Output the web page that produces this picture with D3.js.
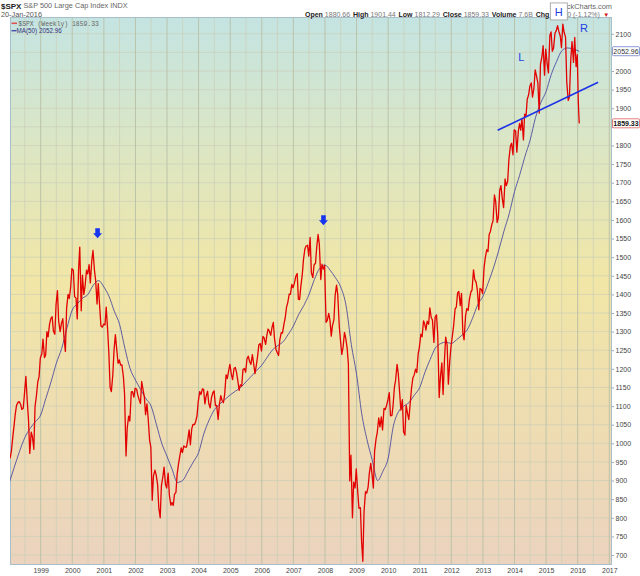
<!DOCTYPE html>
<html>
<head>
<meta charset="utf-8">
<script src="https://cdn.jsdelivr.net/npm/d3@7"></script>
<style>
body { margin: 0; background: #fff; }
svg { display: block; font-family: "Liberation Sans", Arial, sans-serif; }
</style>
</head>
<body>
<div id="chart"></div>
<script>
var px1998 = [960, 980, 1020, 1049, 1080, 1102, 1110, 1112, 1105, 1091, 1095, 1134, 1180, 1121, 1060, 973, 1030, 1017, 984, 1099, 1130, 1164, 1180, 1229];
var px1999 = [1240, 1280, 1230, 1238, 1300, 1286, 1320, 1335, 1340, 1302, 1293, 1373, 1410, 1329, 1300, 1320, 1335, 1283, 1247, 1363, 1400, 1389, 1420, 1469];
var px2000 = [1465, 1394, 1390, 1334, 1465, 1527, 1356, 1452, 1400, 1421, 1465, 1455, 1480, 1431, 1490, 1518, 1465, 1437, 1374, 1429, 1365, 1315, 1312, 1320];
var px2001 = [1318, 1366, 1302, 1240, 1150, 1139, 1183, 1249, 1292, 1256, 1215, 1224, 1210, 1211, 1180, 1134, 966, 1041, 1073, 1060, 1138, 1139, 1124, 1148];
var px2002 = [1146, 1130, 1116, 1107, 1166, 1147, 1124, 1077, 1106, 1067, 1007, 990, 847, 912, 928, 916, 889, 827, 800, 886, 910, 936, 890, 880];
var px2003 = [920, 861, 834, 841, 833, 863, 868, 917, 945, 964, 988, 975, 993, 990, 990, 1008, 1036, 996, 1039, 1051, 1050, 1058, 1074, 1112];
var px2004 = [1139, 1131, 1146, 1145, 1106, 1126, 1140, 1107, 1095, 1121, 1136, 1141, 1101, 1102, 1064, 1104, 1128, 1115, 1109, 1130, 1184, 1174, 1195, 1212];
var px2005 = [1185, 1171, 1201, 1204, 1191, 1171, 1142, 1157, 1154, 1198, 1201, 1191, 1227, 1234, 1219, 1212, 1238, 1215, 1187, 1207, 1235, 1265, 1268, 1248];
var px2006 = [1287, 1283, 1266, 1289, 1307, 1302, 1290, 1310, 1325, 1281, 1252, 1244, 1236, 1278, 1297, 1296, 1320, 1336, 1366, 1378, 1401, 1400, 1427, 1418];
var px2007 = [1431, 1448, 1456, 1387, 1386, 1421, 1453, 1494, 1522, 1530, 1532, 1503, 1553, 1458, 1445, 1479, 1484, 1527, 1561, 1535, 1440, 1481, 1468, 1478];
var px2008 = [1325, 1330, 1349, 1331, 1288, 1316, 1332, 1397, 1425, 1400, 1317, 1278, 1239, 1257, 1298, 1283, 1255, 1213, 899, 968, 800, 896, 880, 931];
var px2009 = [870, 826, 827, 735, 683, 816, 870, 866, 882, 919, 946, 918, 880, 979, 1012, 1029, 1068, 1044, 1071, 1036, 1094, 1091, 1102, 1115];
var px2010 = [1136, 1074, 1075, 1105, 1150, 1169, 1212, 1187, 1136, 1089, 1117, 1031, 1022, 1102, 1079, 1064, 1110, 1148, 1176, 1183, 1199, 1190, 1240, 1258];
var px2011 = [1293, 1286, 1329, 1320, 1304, 1328, 1320, 1364, 1338, 1331, 1271, 1339, 1345, 1292, 1123, 1177, 1216, 1131, 1224, 1285, 1263, 1159, 1220, 1258];
var px2012 = [1289, 1316, 1361, 1366, 1404, 1408, 1370, 1403, 1295, 1278, 1343, 1362, 1357, 1386, 1406, 1412, 1466, 1440, 1433, 1412, 1359, 1416, 1413, 1402];
var px2013 = [1472, 1498, 1520, 1515, 1561, 1569, 1588, 1598, 1667, 1650, 1593, 1606, 1680, 1692, 1655, 1633, 1710, 1692, 1704, 1762, 1798, 1806, 1775, 1842];
var px2014 = [1839, 1782, 1838, 1859, 1841, 1872, 1815, 1884, 1878, 1924, 1937, 1960, 1968, 1930, 1955, 2003, 1985, 1968, 1887, 2018, 2039, 2068, 1989, 2059];
var px2015 = [2019, 1995, 2096, 2105, 2053, 2061, 2102, 2108, 2122, 2107, 2094, 2063, 2126, 2104, 2091, 1971, 1921, 1931, 2033, 2079, 2023, 2090, 2012, 2044];
var px2016Dates = ['2016-01-08', '2016-01-15', '2016-01-20'];
var px2016 = [1922, 1880, 1859.33];

// 50-week moving average, read at Jan/Mar/May/Jul/Sep/Nov
var ma1998 = [893, 935, 978, 1015, 1040, 1058];
var ma1999 = [1076, 1120, 1165, 1215, 1255, 1310];
var ma2000 = [1358, 1375, 1390, 1400, 1425, 1437];
var ma2001 = [1420, 1395, 1355, 1320, 1255, 1200];
var ma2002 = [1170, 1145, 1120, 1100, 1050, 1000];
var ma2003 = [965, 930, 895, 900, 925, 950];
var ma2004 = [975, 1025, 1062, 1090, 1105, 1118];
var ma2005 = [1130, 1140, 1150, 1165, 1180, 1195];
var ma2006 = [1210, 1230, 1250, 1262, 1272, 1292];
var ma2007 = [1315, 1345, 1370, 1400, 1440, 1470];
var ma2008 = [1479, 1465, 1445, 1420, 1370, 1265];
var ma2009 = [1185, 1080, 1010, 955, 900, 925];
var ma2010 = [960, 1045, 1085, 1100, 1110, 1130];
var ma2011 = [1150, 1190, 1225, 1256, 1268, 1272];
var ma2012 = [1268, 1278, 1290, 1304, 1335, 1372];
var ma2013 = [1395, 1430, 1470, 1517, 1570, 1617];
var ma2014 = [1676, 1720, 1770, 1815, 1875, 1915];
var ma2015 = [1945, 1990, 2025, 2054, 2062, 2060];
var maLastDate = '2016-01-20';
var maLast = 2052.96;

var yTicks = [700, 750, 800, 850, 900, 950, 1000, 1050, 1100, 1150, 1200, 1250, 1300, 1350, 1400,
              1450, 1500, 1550, 1600, 1650, 1700, 1750, 1800, 1850, 1900, 1950, 2000, 2050, 2100];
// labels hidden behind the value tags in the original
var yHidden = [1850, 2050];
var xTickYears = ['1999', '2000', '2001', '2002', '2003', '2004', '2005', '2006', '2007', '2008',
                  '2009', '2010', '2011', '2012', '2013', '2014', '2015', '2016', '2017'];

var hdrLabels = ['Open', 'High', 'Low', 'Close', 'Volume', 'Chg'];
var hdrValues = ['1880.66', '1901.44', '1812.29', '1859.33', '7.6B', '-21.00 (-1.12%)'];

// annotations
var trendDates = ['2013-06-20', '2016-08-25'];
var trendValues = [1841, 1970];
var arrowDates = ['2000-10-20', '2007-12-15'];
var arrowValues = [1551, 1586];
var letterText = ['L', 'H', 'R'];
var letterDates = ['2014-03-22', '2015-05-28', '2016-03-15'];
var letterValues = [2027, 2148, 2105];

var priceRows = [px1998, px1999, px2000, px2001, px2002, px2003, px2004, px2005, px2006,
                 px2007, px2008, px2009, px2010, px2011, px2012, px2013, px2014, px2015];
var maRows = [ma1998, ma1999, ma2000, ma2001, ma2002, ma2003, ma2004, ma2005, ma2006,
              ma2007, ma2008, ma2009, ma2010, ma2011, ma2012, ma2013, ma2014, ma2015];

var parse = d3.timeParse('%Y-%m-%d');

var price = [];
priceRows.forEach(function(vals, k) {
    vals.forEach(function(v, i) {
        price.push({ date: new Date(1998 + k, Math.floor(i / 2), i % 2 ? 28 : 14), value: v });
    });
});
px2016.forEach(function(v, i) {
    price.push({ date: parse(px2016Dates[i]), value: v });
});

var ma = [];
maRows.forEach(function(vals, k) {
    vals.forEach(function(v, i) {
        ma.push({ date: new Date(1998 + k, i * 2, 1), value: v });
    });
});
ma.push({ date: parse(maLastDate), value: maLast });

var W = 640, H = 576;
var plot = { left: 10, right: 612, top: 17, bottom: 565 };

var x = d3.scaleTime()
    .domain([new Date(1998, 0, 1), new Date(2017, 0, 1)])
    .range([9.1, 609.3]);

var y = d3.scaleLinear()
    .domain([700, 2100])
    .range([555, 33.8]);

var svg = d3.select('#chart').append('svg')
    .attr('width', W)
    .attr('height', H);

var defs = svg.append('defs');
var grad = defs.append('linearGradient')
    .attr('id', 'bg')
    .attr('x1', 0).attr('y1', 0).attr('x2', 0).attr('y2', 1);
grad.append('stop').attr('offset', '0%').attr('stop-color', '#c4e4e2');
grad.append('stop').attr('offset', '22%').attr('stop-color', '#dae6c6');
grad.append('stop').attr('offset', '48%').attr('stop-color', '#f1e6a6');
grad.append('stop').attr('offset', '75%').attr('stop-color', '#eedcb2');
grad.append('stop').attr('offset', '100%').attr('stop-color', '#ebd3bf');

defs.append('clipPath')
    .attr('id', 'clip')
  .append('rect')
    .attr('x', plot.left)
    .attr('y', plot.top)
    .attr('width', plot.right - plot.left)
    .attr('height', plot.bottom - plot.top);

svg.append('rect')
    .attr('x', plot.left)
    .attr('y', plot.top)
    .attr('width', plot.right - plot.left)
    .attr('height', plot.bottom - plot.top)
    .attr('fill', 'url(#bg)');

// grid
var grid = svg.append('g').attr('clip-path', 'url(#clip)');

grid.selectAll('.hgrid')
    .data(yTicks)
  .enter().append('line')
    .attr('class', 'hgrid')
    .attr('x1', plot.left).attr('x2', plot.right)
    .attr('y1', d => y(d)).attr('y2', d => y(d))
    .attr('stroke', '#cbcfb8')
    .attr('stroke-width', 0.7);

var halfYears = d3.timeMonth.every(6).range(new Date(1998, 0, 1), new Date(2017, 1, 1));
grid.selectAll('.vgrid')
    .data(halfYears)
  .enter().append('line')
    .attr('class', 'vgrid')
    .attr('x1', d => x(d)).attr('x2', d => x(d))
    .attr('y1', plot.top).attr('y2', plot.bottom)
    .attr('stroke', d => d.getMonth() === 0 ? '#b8c0a6' : '#cbcfb8')
    .attr('stroke-width', d => d.getMonth() === 0 ? 0.9 : 0.7);

// border
svg.append('rect')
    .attr('x', plot.left + 0.5)
    .attr('y', plot.top + 0.5)
    .attr('width', plot.right - plot.left - 1)
    .attr('height', plot.bottom - plot.top - 1)
    .attr('fill', 'none')
    .attr('stroke', '#a7bfca')
    .attr('stroke-width', 1);

// axes
var yAxis = svg.append('g')
    .attr('transform', 'translate(' + plot.right + ',0)')
    .call(d3.axisRight(y).tickValues(yTicks).tickSize(2).tickPadding(1.5).tickFormat(d3.format('d')));
yAxis.select('.domain').remove();
yAxis.selectAll('line').attr('stroke', '#9ab');
yAxis.selectAll('.tick')
    .filter(d => yHidden.indexOf(d) >= 0)
    .select('text').remove();
yAxis.selectAll('text')
    .style('font-size', '7px')
    .attr('fill', '#444');

var xAxis = svg.append('g')
    .attr('transform', 'translate(0,' + plot.bottom + ')')
    .call(d3.axisBottom(x)
        .tickValues(xTickYears.map(s => parse(s + '-01-01')))
        .tickSize(0)
        .tickPadding(3)
        .tickFormat(d3.timeFormat('%Y')));
xAxis.select('.domain').remove();
xAxis.selectAll('text')
    .style('font-size', '7px')
    .attr('fill', '#444');

// lines
var series = svg.append('g').attr('clip-path', 'url(#clip)');

series.append('path')
    .datum(ma)
    .attr('fill', 'none')
    .attr('stroke', '#3b3b9c')
    .attr('stroke-width', 0.8)
    .attr('d', d3.line().curve(d3.curveMonotoneX).x(d => x(d.date)).y(d => y(d.value)));

series.append('path')
    .datum(price)
    .attr('fill', 'none')
    .attr('stroke', '#e30000')
    .attr('stroke-width', 1.3)
    .attr('stroke-linejoin', 'round')
    .attr('d', d3.line().x(d => x(d.date)).y(d => y(d.value)));

// trendline
svg.append('line')
    .attr('x1', x(parse(trendDates[0]))).attr('y1', y(trendValues[0]))
    .attr('x2', x(parse(trendDates[1]))).attr('y2', y(trendValues[1]))
    .attr('stroke', '#1c32e6')
    .attr('stroke-width', 1.6);

// arrows
svg.selectAll('.arrow')
    .data(arrowDates)
  .enter().append('path')
    .attr('class', 'arrow')
    .attr('transform', (d, i) => 'translate(' + x(parse(d)) + ',' + y(arrowValues[i]) + ')')
    .attr('d', 'M0,0 L-4.5,-5 L-2.3,-5 L-2.3,-10 L2.3,-10 L2.3,-5 L4.5,-5 Z')
    .attr('fill', '#1535f0');

// header
svg.append('text')
    .attr('x', 1).attr('y', 8.5)
    .style('font-size', '8px')
    .style('font-weight', 'bold')
    .attr('fill', '#222')
    .text('$SPX');
svg.append('text')
    .attr('x', 23.5).attr('y', 8.3)
    .style('font-size', '7.3px')
    .attr('fill', '#666')
    .text('S&P 500 Large Cap Index INDX');
svg.append('text')
    .attr('x', 1).attr('y', 16.6)
    .style('font-size', '7.3px')
    .attr('fill', '#555')
    .text('20-Jan-2016');

svg.append('text')
    .attr('x', 612).attr('y', 9)
    .attr('text-anchor', 'end')
    .style('font-size', '7.4px')
    .attr('fill', '#666')
    .text('\u00a9StockCharts.com');

var hx = 305;
hdrLabels.forEach(function(lab, i) {
    var t = svg.append('text')
        .attr('x', hx).attr('y', 16.5)
        .style('font-size', '7px');
    t.append('tspan').style('font-weight', 'bold').attr('fill', '#222').text(lab + ' ');
    t.append('tspan').attr('fill', '#777').text(hdrValues[i]);
    hx += t.node().getComputedTextLength() + 2.8;
});
svg.append('text')
    .attr('x', hx + 0.5).attr('y', 16.5)
    .style('font-size', '6px')
    .attr('fill', '#d01010')
    .text('\u25bc');

// legend
var legend = svg.append('g');
legend.append('line')
    .attr('x1', 11.5).attr('x2', 17).attr('y1', 23.3).attr('y2', 23.3)
    .attr('stroke', '#e05050').attr('stroke-width', 1.6);
legend.append('text')
    .attr('x', 18.3).attr('y', 25.6)
    .style('font-family', '"Liberation Mono", "DejaVu Sans Mono", monospace')
    .style('font-size', '6.4px')
    .attr('fill', '#666')
    .text('$SPX (Weekly) ' + d3.format('.2f')(price[price.length - 1].value));
legend.append('line')
    .attr('x1', 11.5).attr('x2', 16.5).attr('y1', 30.7).attr('y2', 30.7)
    .attr('stroke', '#4a4aa8').attr('stroke-width', 1.4);
legend.append('text')
    .attr('x', 16.5).attr('y', 32.8)
    .style('font-size', '6.3px')
    .attr('fill', '#33337a')
    .text('MA(50) ' + d3.format('.2f')(ma[ma.length - 1].value));

// value tags on the right axis
function tag(value, stroke, bold) {
    var g = svg.append('g')
        .attr('transform', 'translate(' + (plot.right + 0.5) + ',' + y(value) + ')');
    g.append('rect')
        .attr('x', 0).attr('y', -4.6)
        .attr('width', 27).attr('height', 9)
        .attr('rx', 1)
        .attr('fill', '#fff')
        .attr('stroke', stroke)
        .attr('stroke-width', 0.8);
    g.append('text')
        .attr('x', 13.5).attr('y', 0)
        .attr('dy', '0.35em')
        .attr('text-anchor', 'middle')
        .style('font-size', '7px')
        .style('font-weight', bold ? 'bold' : 'normal')
        .attr('fill', bold ? '#111' : '#333')
        .text(d3.format('.2f')(value));
}
tag(maLast, '#6f7fcc', false);
tag(price[price.length - 1].value, '#e05a5a', true);

// L / H / R letters
letterText.forEach(function(s, i) {
    var lx = x(parse(letterDates[i])), ly = y(letterValues[i]);
    if (s === 'H') {
        svg.append('rect')
            .attr('x', lx - 8.5).attr('y', ly - 13)
            .attr('width', 17).attr('height', 17)
            .attr('fill', '#fff')
            .attr('stroke', '#9a9a9a')
            .attr('stroke-width', 0.8);
    }
    svg.append('text')
        .attr('x', lx).attr('y', ly)
        .attr('text-anchor', 'middle')
        .style('font-size', '11px')
        .attr('fill', '#2040e0')
        .text(s);
});
</script>
</body>
</html>
